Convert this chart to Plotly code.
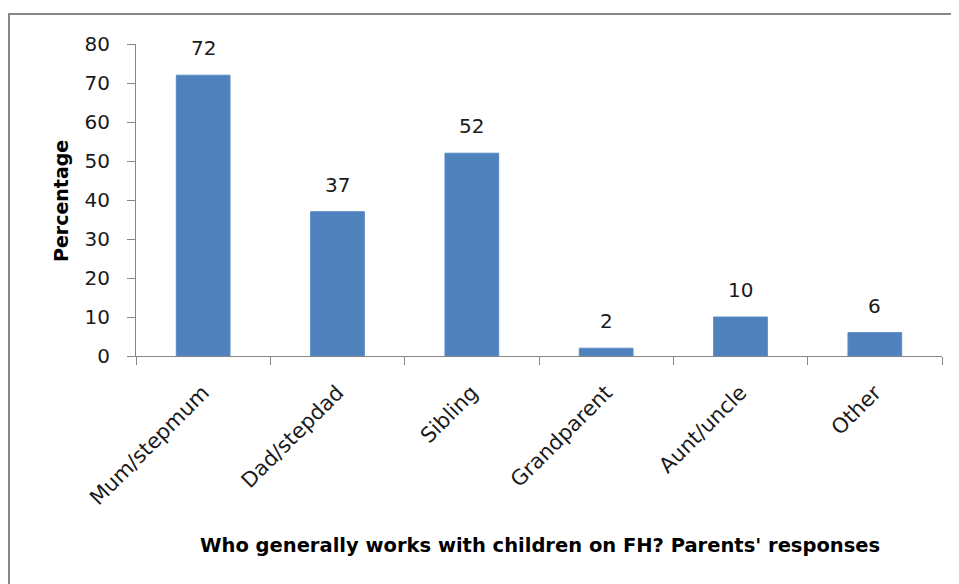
import plotly.graph_objects as go

categories = ["Mum/stepmum", "Dad/stepdad", "Sibling", "Grandparent", "Aunt/uncle", "Other"]
values = [72, 37, 52, 2, 10, 6]
y_ticks = [0, 10, 20, 30, 40, 50, 60, 70, 80]
x_title = "Who generally works with children on FH? Parents' responses"
y_title = "Percentage"

FONT = "DejaVu Sans, sans-serif"
OFF = 8  # page body margin
W, H = 959 - OFF, 584 - OFF
L, R, T, B = 136 - OFF, 17, 44 - OFF, 228
pw, ph = W - L - R, H - T - B

fig = go.Figure(go.Bar(
    x=categories, y=values,
    marker=dict(color="#4F81BD", line=dict(color="#5B8CC8", width=1)),
    cliponaxis=False, hoverinfo="x+y",
))

def px_x(p):
    return (p - OFF - L) / pw

def px_y(p):
    return 1 - (p - OFF - T) / ph

annotations = [
    dict(text=str(v), x=c, y=v, xref="x", yref="y", showarrow=False,
         yanchor="bottom", yshift=13,
         font=dict(family=FONT, size=20, color="#1a1a1a"))
    for c, v in zip(categories, values)
]
annotations += [
    dict(text=f"<b>{y_title}</b>", xref="paper", yref="paper",
         x=px_x(61), y=px_y(201), showarrow=False, textangle=-90,
         font=dict(family=FONT, size=19, color="#000000"),
         xanchor="center", yanchor="middle"),
    dict(text=f"<b>{x_title}</b>", xref="paper", yref="paper",
         x=px_x(540), y=px_y(545), showarrow=False,
         font=dict(family=FONT, size=19.5, color="#000000"),
         xanchor="center", yanchor="middle"),
]

fig.update_layout(
    width=W, height=H,
    margin=dict(l=L, r=R, t=T, b=B, autoexpand=False),
    paper_bgcolor="white", plot_bgcolor="white",
    bargap=0.6, showlegend=False,
    font=dict(family=FONT, size=20, color="#1a1a1a"),
    xaxis=dict(
        type="category", tickangle=-45, tickson="boundaries",
        ticks="outside", ticklen=8, tickcolor="#868686",
        showline=True, linecolor="#868686", linewidth=1,
        showgrid=False, ticklabelstandoff=15,
        tickfont=dict(family=FONT, size=21, color="#1a1a1a"),
    ),
    yaxis=dict(
        range=[0, 80], tickvals=y_ticks, ticks="outside", ticklen=8,
        tickcolor="#868686", showline=True, linecolor="#868686", linewidth=1,
        showgrid=False, zeroline=False, ticklabelstandoff=13,
        tickfont=dict(family=FONT, size=20, color="#1a1a1a"),
    ),
    shapes=[dict(
        type="rect", xref="paper", yref="paper",
        x0=px_x(9), x1=px_x(975), y0=px_y(600), y1=px_y(14),
        line=dict(color="#868686", width=2), fillcolor="rgba(0,0,0,0)", layer="below",
    )],
    annotations=annotations,
)

fig.write_html("out.html")
